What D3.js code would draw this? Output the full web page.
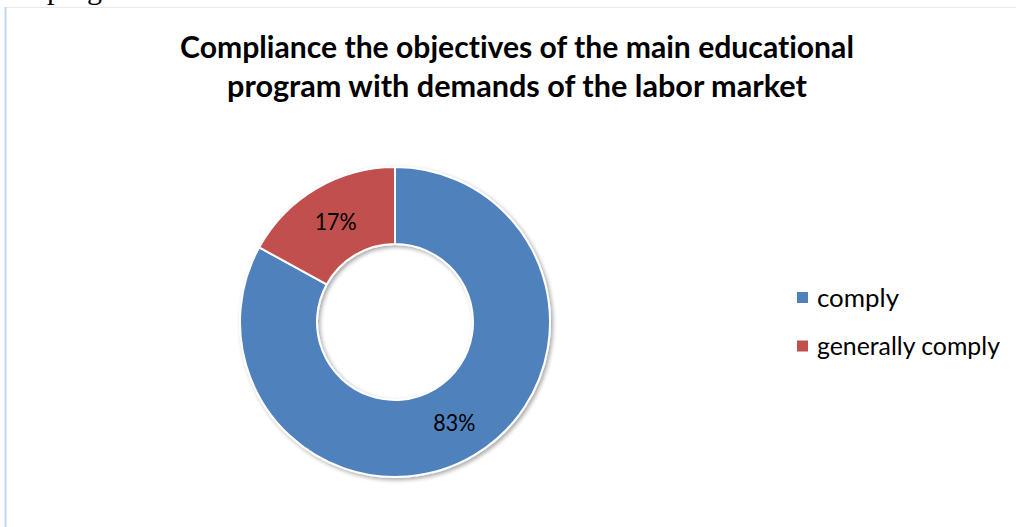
<!DOCTYPE html>
<html>
<head>
<meta charset="utf-8">
<script src="https://cdn.jsdelivr.net/npm/d3@7"></script>
<style>
  html, body { margin: 0; padding: 0; background: #ffffff; }
  svg { display: block; }
  text { font-variant-ligatures: none; }
</style>
</head>
<body>
<svg id="chart" width="1016" height="527"></svg>
<script>
// ---- data ----
const categories = ["comply", "generally comply"];
const values = [83, 17];
const labels = ["83%", "17%"];
const colors = ["#4F81BD", "#C0504D"];
const titleLines = ["Compliance the objectives of the main educational",
                    "program with demands of the labor market"];

const svg = d3.select("#chart");
const W = 1016, H = 527;

// fragment of the surrounding document text (only descenders visible, as in the reference)
svg.append("text")
  .attr("x", 47).attr("y", -1)
  .attr("font-family", "'Liberation Serif', 'Times New Roman', serif")
  .attr("font-size", 30)
  .attr("fill", "#000")
  .text("program");

// chart frame
svg.append("line").attr("x1", 5).attr("x2", W).attr("y1", 7.5).attr("y2", 7.5)
  .attr("stroke", "#e6e9ee").attr("stroke-width", 1);
svg.append("line").attr("x1", 5.5).attr("x2", 5.5).attr("y1", 7).attr("y2", H)
  .attr("stroke", "#c6d6ec").attr("stroke-width", 2);

// shadow filter
const defs = svg.append("defs");
const f = defs.append("filter").attr("id", "sh").attr("x", "-10%").attr("y", "-10%")
  .attr("width", "130%").attr("height", "130%");
f.append("feGaussianBlur").attr("in", "SourceAlpha").attr("stdDeviation", 2);
f.append("feOffset").attr("dx", 1.5).attr("dy", 1.5).attr("result", "ob");
f.append("feComponentTransfer").append("feFuncA").attr("type", "linear").attr("slope", 0.35);
const fm = f.append("feMerge");
fm.append("feMergeNode");
fm.append("feMergeNode").attr("in", "SourceGraphic");

// helper: fit a text to a target width by compressing glyphs if needed
function fit(sel, target) {
  const w = sel.node().getComputedTextLength();
  if (w > target) sel.attr("textLength", target).attr("lengthAdjust", "spacingAndGlyphs");
  else sel.attr("font-size", +sel.attr("font-size") * target / w);
}

// title
const titleFont = "Lato, 'Open Sans', sans-serif";
const targetWidths = [674, 580];
const baselines = [58, 97];
titleLines.forEach((t, i) => {
  const tx = svg.append("text")
    .attr("x", 517).attr("y", baselines[i])
    .attr("text-anchor", "middle")
    .attr("font-family", titleFont)
    .attr("font-weight", "bold")
    .attr("font-size", 30)
    .attr("fill", "#000")
    .text(t);
  fit(tx, targetWidths[i]);
});

// donut
const cx = 395, cy = 322, rOuter = 155, rInner = 78;
const pie = d3.pie().sort(null).value(d => d)(values);
const arc = d3.arc().innerRadius(rInner).outerRadius(rOuter);
const labelArc = d3.arc().innerRadius((rInner + rOuter) / 2).outerRadius((rInner + rOuter) / 2);

const g = svg.append("g").attr("transform", `translate(${cx},${cy})`);
g.append("g").attr("filter", "url(#sh)")
  .selectAll("path").data(pie).join("path")
  .attr("d", arc)
  .attr("fill", (d, i) => colors[i])
  .attr("stroke", "#ffffff")
  .attr("stroke-width", 2)
  .attr("stroke-linejoin", "round");

const labFont = "Lato, 'Open Sans', sans-serif";
g.selectAll("text.lab").data(pie).join("text")
  .attr("class", "lab")
  .attr("transform", d => `translate(${labelArc.centroid(d)})`)
  .attr("dy", "0.36em")
  .attr("text-anchor", "middle")
  .attr("font-family", labFont)
  .attr("font-size", 23)
  .attr("fill", "#000")
  .text((d, i) => labels[i])
  .each(function() { fit(d3.select(this), 42); });

// legend
const legend = svg.append("g");
const rowY = [297.5, 346];
const legendWidths = [82, 183];
categories.forEach((c, i) => {
  legend.append("rect")
    .attr("x", 797).attr("y", rowY[i] - 5.5)
    .attr("width", 11).attr("height", 11)
    .attr("fill", colors[i]);
  const t = legend.append("text")
    .attr("x", 817).attr("y", rowY[i])
    .attr("dy", "0.35em")
    .attr("font-family", labFont)
    .attr("font-size", 24)
    .attr("fill", "#000")
    .text(c);
  fit(t, legendWidths[i]);
});
</script>
</body>
</html>
